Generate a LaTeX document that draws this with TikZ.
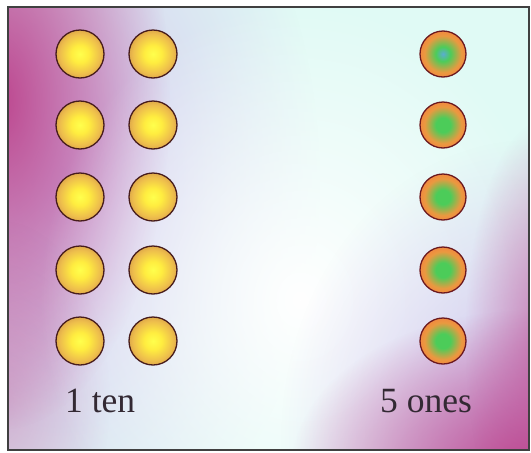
\documentclass[tikz,border=0pt]{standalone}
\usepackage{fontspec}
\setmainfont{Liberation Serif}
\usetikzlibrary{fadings}
\definecolor{magA}{rgb}{0.74,0.28,0.56}
\definecolor{lavA}{rgb}{0.82,0.74,0.93}
\definecolor{cyanA}{rgb}{0.88,0.98,0.96}
\definecolor{txt}{rgb}{0.2,0.16,0.2}
\definecolor{y0}{rgb}{1,1,0.3}
\definecolor{y1}{rgb}{1,0.93,0.25}
\definecolor{y2}{rgb}{0.93,0.74,0.3}
\definecolor{y3}{rgb}{0.72,0.46,0.24}
\definecolor{y35}{rgb}{0.48,0.27,0.16}
\definecolor{y4}{rgb}{0.28,0.11,0.11}
\definecolor{r0}{rgb}{0.3,0.8,0.35}
\definecolor{rb0}{rgb}{0.35,0.68,0.82}
\definecolor{r2}{rgb}{0.92,0.6,0.25}
\definecolor{r3}{rgb}{0.98,0.45,0.25}
\definecolor{r4}{rgb}{0.86,0.3,0.22}
\definecolor{r5}{rgb}{0.42,0.1,0.12}
\tikzfading[name=fadeO, inner color=transparent!0, outer color=transparent!100]
\pgfdeclareradialshading{yball}{\pgfpoint{0bp}{0bp}}{%
 color(0bp)=(y0); color(9bp)=(y1); color(21bp)=(y2); color(36bp)=(y3); color(45bp)=(y35); color(50bp)=(y4)}
\pgfdeclareradialshading{rball}{\pgfpoint{0bp}{0bp}}{%
 color(0bp)=(r0); color(8bp)=(r0); color(20bp)=(r2); color(32bp)=(r3); color(43bp)=(r4); color(50bp)=(r5)}
\pgfdeclareradialshading{bball}{\pgfpoint{0bp}{0bp}}{%
 color(0bp)=(rb0); color(8bp)=(r0); color(20bp)=(r2); color(32bp)=(r3); color(43bp)=(r4); color(50bp)=(r5)}
\tikzset{
  yb/.style={circle, minimum size=48pt, inner sep=0pt, shading=yball, draw=y4, line width=1.3pt},
  rb/.style={circle, minimum size=46pt, inner sep=0pt, shading=rball, draw=r5, line width=1.3pt},
  lbl/.style={anchor=base west, inner sep=0pt, font=\fontsize{35.5pt}{40pt}\selectfont, text=txt},
  glow/.style={path fading=fadeO}
}
\begin{document}
\begin{tikzpicture}[x=1pt,y=-1pt]
\useasboundingbox (0,0) rectangle (531,453);
\fill[white] (0,0) rectangle (531,453);
\begin{scope}
\clip (8,7) rectangle (529,450);
\fill[cyanA] (8,7) rectangle (529,450);
\fill[lavA, glow, opacity=0.9] (60,180) ellipse (260 and 400);
\fill[magA, glow] (0,100) ellipse (170 and 330);
\fill[magA, glow, opacity=0.35] (0,400) ellipse (110 and 180);
\fill[white, glow] (300,300) ellipse (260 and 300);
\fill[lavA, glow] (531,440) ellipse (250 and 300);
\fill[magA, glow] (531,470) ellipse (240 and 160);
\fill[magA, glow, opacity=0.6] (545,340) ellipse (80 and 220);
\end{scope}
\draw[black!75, line width=1.4pt] (8,7) rectangle (529,450);
% balls
\foreach \r [count=\i] in {54,125,197,270,341}{
  \node[yb] (a\i) at (80,\r) {};
  \node[yb] (b\i) at (153,\r) {};
}
\node[rb, shading=bball] (c1) at (443,54) {};
\node[rb] (c2) at (443,125) {};
\node[rb] (c3) at (443,197) {};
\node[rb] (c4) at (443,270) {};
\node[rb] (c5) at (443,341) {};
% labels
\node[lbl] (t1) at (65,412) {1 ten};
\node[lbl] (t2) at (380,412) {5 ones};
\end{tikzpicture}
\end{document}
